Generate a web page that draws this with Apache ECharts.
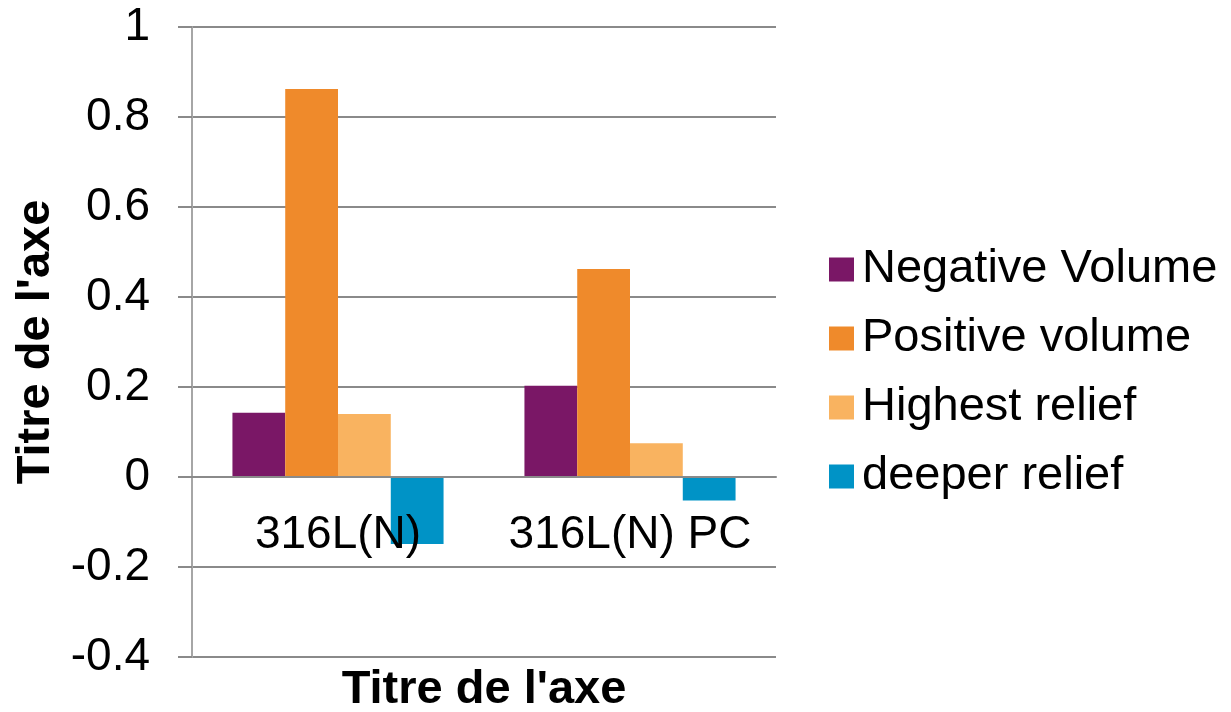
<!DOCTYPE html>
<html>
<head>
<meta charset="utf-8">
<script src="https://cdn.jsdelivr.net/npm/echarts@6/dist/echarts.min.js"></script>
<style>
html,body{margin:0;padding:0;background:#fff;}
#chart{width:1231px;height:712px;}
</style>
</head>
<body>
<div id="chart"></div>
<script>
const categories = ['316L(N)', '316L(N) PC'];
const seriesNames = ['Negative Volume', 'Positive volume', 'Highest relief', 'deeper relief'];
const negativeVolume = [0.143, 0.203];
const positiveVolume = [0.862, 0.462];
const highestRelief = [0.140, 0.075];
const deeperRelief = [-0.149, -0.052];
const colors = ['#7a1766', '#ef8a2b', '#f9b360', '#0093c6'];
const axisTitle = "Titre de l'axe";
const yMin = -0.4, yMax = 1, yStep = 0.2;

const values = [negativeVolume, positiveVolume, highestRelief, deeperRelief];
const FONT = '"Liberation Sans", Arial, sans-serif';

const GRID_TOP = 27, GRID_BOTTOM = 55, H = 712;
const plotH = H - GRID_TOP - GRID_BOTTOM;
// shift the category axis up to the zero line of the value axis
const zeroOffset = -plotH * (0 - yMin) / (yMax - yMin);

const chart = echarts.init(document.getElementById('chart'), null, {renderer: 'canvas'});
chart.setOption({
  animation: false,
  textStyle: {fontFamily: FONT},
  grid: {left: 192, right: 455, top: GRID_TOP, bottom: GRID_BOTTOM, containLabel: false, outerBoundsMode: 'none'},
  legend: {
    orient: 'vertical',
    left: 824,
    top: 241,
    itemWidth: 25,
    itemHeight: 24,
    itemGap: 22,
    icon: 'rect',
    textStyle: {fontFamily: FONT, fontSize: 47, color: '#000', padding: [0, 0, 0, 3]},
    data: seriesNames
  },
  xAxis: {
    type: 'category',
    data: categories,
    offset: zeroOffset,
    z: 10,
    axisLine: {show: true, onZero: false, lineStyle: {color: '#8a8a8a', width: 2}},
    axisTick: {show: false},
    axisLabel: {fontFamily: FONT, fontSize: 46, color: '#000', margin: 35, interval: 0, hideOverlap: false},
    name: axisTitle,
    nameLocation: 'middle',
    nameGap: 190,
    nameTextStyle: {fontFamily: FONT, fontSize: 47, fontWeight: 'bold', color: '#000'}
  },
  yAxis: {
    type: 'value',
    min: yMin,
    max: yMax,
    interval: yStep,
    axisLine: {show: true, lineStyle: {color: '#a6a6a6', width: 2}},
    axisTick: {show: true, length: 14, inside: false, lineStyle: {color: '#8a8a8a', width: 2}},
    splitLine: {show: true, lineStyle: {color: '#8a8a8a', width: 2}},
    axisLabel: {fontFamily: FONT, fontSize: 46, color: '#000', margin: 42,
      formatter: v => String(Math.round(v * 10) / 10)},
    name: axisTitle,
    nameLocation: 'middle',
    nameGap: 132,
    nameTextStyle: {fontFamily: FONT, fontSize: 47, fontWeight: 'bold', color: '#000'}
  },
  series: seriesNames.map((n, i) => ({
    name: n,
    type: 'bar',
    data: values[i],
    barGap: '0%',
    barCategoryGap: '27.7%',
    itemStyle: {color: colors[i]}
  }))
});
</script>
</body>
</html>
